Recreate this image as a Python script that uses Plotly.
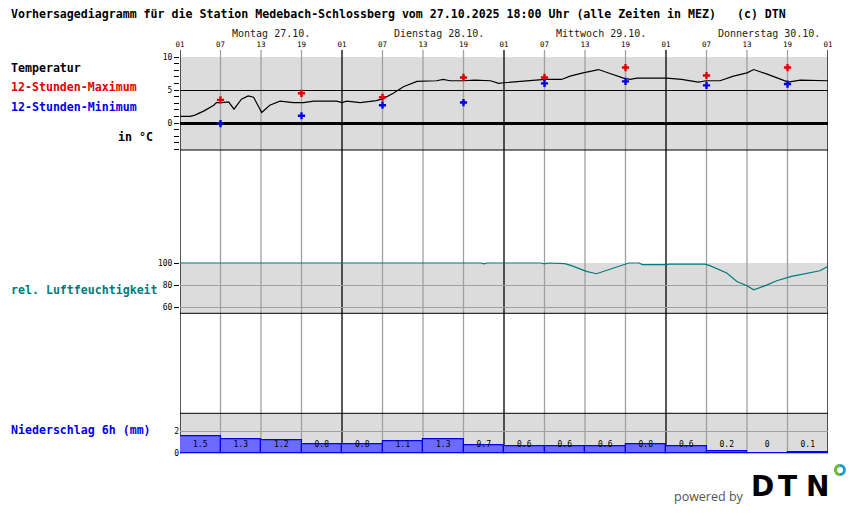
import plotly.graph_objects as go

# ---------------- data ----------------
title_text = ("Vorhersagediagramm für die Station Medebach-Schlossberg vom 27.10.2025 "
              "18:00 Uhr (alle Zeiten in MEZ)\u00a0\u00a0\u00a0(c) DTN")
day_labels = ["Montag 27.10.", "Dienstag 28.10.", "Mittwoch 29.10.", "Donnerstag 30.10."]
hour_ticks = [0, 6, 12, 18, 24, 30, 36, 42, 48, 54, 60, 66, 72, 78, 84, 90, 96]
hour_text = ["01", "07", "13", "19", "01", "07", "13", "19", "01",
             "07", "13", "19", "01", "07", "13", "19", "01"]

temp_hours = [0, 1.5, 2.2, 3.5, 5, 5.4, 6.2, 7.2, 8.0, 9.1, 10.1, 10.9, 12.1, 13.3, 14.8,
              16.8, 18.3, 19.8, 23.2, 24, 24.7, 26.7, 29.1, 30.1, 31.6, 33.1, 35.1, 38, 39,
              40, 42, 43.7, 46, 47.2, 48, 50.4, 52.8, 54.1, 56.5, 57.8, 59.7, 62, 63.7, 65.7,
              66.7, 67.7, 72.1, 74.3, 76.8, 78, 80, 82, 84, 85, 87, 89, 90.1, 91.9, 93.6, 96]
temp_vals = [1.0, 1.0, 1.2, 1.8, 2.7, 3.1, 3.1, 3.2, 2.1, 3.6, 4.1, 3.9, 1.6, 2.7, 3.3,
             3.1, 3.1, 3.3, 3.3, 3.1, 3.3, 3.1, 3.4, 3.7, 4.5, 5.5, 6.3, 6.4, 6.6,
             6.4, 6.4, 6.5, 6.4, 6.0, 6.1, 6.3, 6.5, 6.6, 6.6, 7.1, 7.6, 8.1, 7.5, 6.8,
             6.6, 6.8, 6.8, 6.6, 6.2, 6.4, 6.4, 7.1, 7.6, 8.1, 7.4, 6.6, 6.2, 6.5, 6.5, 6.4]

ext_hours = [6, 18, 30, 42, 54, 66, 78, 90]
tmax_vals = [3.5, 4.5, 3.9, 6.9, 6.9, 8.4, 7.2, 8.4]
tmin_vals = [-0.1, 1.1, 2.7, 3.1, 6.0, 6.3, 5.7, 5.9]

hum_hours = [0, 44.6, 45.0, 45.5, 53.5, 54, 54.5, 56, 57, 58, 59, 60.2, 61.7, 63.2, 64.7,
             65.9, 66.5, 68, 68.5, 72, 72.5, 77.8, 78.5, 81, 82.5, 84, 85, 87, 88.4, 90.6,
             92.8, 94.8, 96]
hum_vals = [100, 100, 99.3, 100, 100, 99.2, 100, 100, 99.4, 97.6, 95, 92.4, 90.3, 93.3, 97,
            98.8, 100, 100, 98.5, 98.5, 99, 99, 97.6, 91, 83.3, 79.4, 75.8, 80.3, 84, 87.9,
            90.9, 93, 97]

precip_hours = [3, 9, 15, 21, 27, 33, 39, 45, 51, 57, 63, 69, 75, 81, 87, 93]
precip_vals = [1.5, 1.3, 1.2, 0.8, 0.8, 1.1, 1.3, 0.7, 0.6, 0.6, 0.6, 0.8, 0.6, 0.2, 0, 0.1]
precip_text = ["1.5", "1.3", "1.2", "0.8", "0.8", "1.1", "1.3", "0.7",
               "0.6", "0.6", "0.6", "0.8", "0.6", "0.2", "0", "0.1"]

# ---------------- geometry helpers (pixels -> paper) ----------------
W, H = 850, 524
L, R, T, B = 180, 828, 57, 454


def px(x):
    return (x - L) / (R - L)


def py(y):
    return (B - y) / (B - T)


MONO = "DejaVu Sans Mono"
GREY_BG = "#dcdcdc"
GRID = "#a0a0a0"
TEAL = "#007b7b"
RED = "#e00000"
BLUE = "#0000e8"

fig = go.Figure()

fig.add_trace(go.Scatter(x=temp_hours, y=temp_vals, mode="lines", xaxis="x", yaxis="y",
                         line=dict(color="black", width=1.2), hoverinfo="skip"))
fig.add_trace(go.Scatter(x=ext_hours, y=tmax_vals, mode="markers", xaxis="x", yaxis="y",
                         marker=dict(symbol="cross", size=6, color=RED), hoverinfo="skip"))
fig.add_trace(go.Scatter(x=ext_hours, y=tmin_vals, mode="markers", xaxis="x", yaxis="y",
                         marker=dict(symbol="cross", size=6, color=BLUE), hoverinfo="skip"))
fig.add_trace(go.Scatter(x=hum_hours, y=hum_vals, mode="lines", xaxis="x", yaxis="y2",
                         line=dict(color=TEAL, width=1.2), hoverinfo="skip"))
fig.add_trace(go.Bar(x=precip_hours, y=precip_vals, width=6, xaxis="x", yaxis="y3",
                     marker=dict(color="#6b6bff", line=dict(color="#0000ee", width=1.2)),
                     hoverinfo="skip"))
fig.add_trace(go.Scatter(x=precip_hours, y=[0.75] * len(precip_hours), text=precip_text,
                         mode="text", xaxis="x", yaxis="y3", cliponaxis=False,
                         textfont=dict(family=MONO, size=8, color="black"), hoverinfo="skip"))

shapes = []
# grey panel backgrounds
for top, bot in [(57, 150), (263, 313.3), (413.3, 453.3)]:
    shapes.append(dict(type="rect", xref="x", yref="paper", x0=0, x1=96,
                       y0=py(bot), y1=py(top), fillcolor=GREY_BG, line=dict(width=0),
                       layer="below"))
# vertical grid lines through all panels
for h in hour_ticks:
    col = "black" if h % 24 == 0 else GRID
    shapes.append(dict(type="line", xref="x", yref="paper", x0=h, x1=h,
                       y0=py(453.3), y1=py(50), line=dict(color=col, width=1.3),
                       layer="below"))
# horizontal borders
for yy in [150, 313.3, 413.3]:
    shapes.append(dict(type="line", xref="x", yref="paper", x0=0, x1=96,
                       y0=py(yy), y1=py(yy), line=dict(color="black", width=1),
                       layer="below"))

# DTN logo ring
shapes.append(dict(type="circle", xref="paper", yref="paper",
                   x0=px(835.5), x1=px(844.5), y0=py(474.5), y1=py(465.5),
                   line=dict(color="#1a9ad9", width=2.8)))
k = 4.5 * 0.5523
shapes.append(dict(type="path", xref="paper", yref="paper",
                   path=(f"M {px(840)},{py(465.5)} "
                         f"C {px(840 - k)},{py(465.5)} {px(835.5)},{py(470 - k)} {px(835.5)},{py(470)} "
                         f"C {px(835.5)},{py(470 + k)} {px(840 - k)},{py(474.5)} {px(840)},{py(474.5)}"),
                   line=dict(color="#79b829", width=2.8)))

annotations = []
annotations.append(dict(xref="paper", yref="paper", x=px(9), y=py(14), xanchor="left",
                        yanchor="middle", showarrow=False, text=title_text,
                        font=dict(family=MONO, size=11.6, color="black", weight="bold")))
for d, lab in enumerate(day_labels):
    annotations.append(dict(xref="x", yref="paper", x=d * 24 + 50 / 6.75, y=py(33),
                            xanchor="left", yanchor="middle", showarrow=False, text=lab,
                            font=dict(family=MONO, size=10, color="#222")))

left_labels = [("Temperatur", 67.5, "black"), ("12-Stunden-Maximum", 87.3, RED),
               ("12-Stunden-Minimum", 107.3, BLUE), ("rel. Luftfeuchtigkeit", 289.5, TEAL),
               ("Niederschlag 6h (mm)", 430.3, BLUE)]
for txt, yy, col in left_labels:
    annotations.append(dict(xref="paper", yref="paper", x=px(9), y=py(yy), xanchor="left",
                            yanchor="middle", showarrow=False, text=txt,
                            font=dict(family=MONO, size=11.6, color=col, weight="bold")))
annotations.append(dict(xref="paper", yref="paper", x=px(155), y=py(136.5), xanchor="right",
                        yanchor="middle", showarrow=False, text="in °C",
                        font=dict(family=MONO, size=11.6, color="black", weight="bold")))

# powered by DTN
annotations.append(dict(xref="paper", yref="paper", x=px(709), y=py(496), xanchor="center",
                        yanchor="middle", showarrow=False, text="powered by",
                        font=dict(family="Open Sans", size=12.5, color="#555")))
for ch, cx in [("D", 762.5), ("T", 787.5), ("N", 817.5)]:
    annotations.append(dict(xref="paper", yref="paper", x=px(cx), y=py(486.5),
                            xanchor="center", yanchor="middle", showarrow=False, text=ch,
                            font=dict(family="DejaVu Sans", size=28, color="black",
                                      weight="bold")))

tickfont = dict(family=MONO, size=8, color="black")

fig.update_layout(
    width=W, height=H,
    margin=dict(l=L, r=W - R, t=T, b=H - B, autoexpand=False),
    paper_bgcolor="white", plot_bgcolor="rgba(0,0,0,0)",
    showlegend=False, bargap=0,
    shapes=shapes, annotations=annotations,
    xaxis=dict(range=[0, 96], domain=[0, 1], anchor="y", side="top",
               tickmode="array", tickvals=hour_ticks, ticktext=hour_text,
               ticks="outside", ticklen=6, tickcolor="rgba(0,0,0,0)",
               tickfont=dict(family=MONO, size=7.5, color="black"),
               showgrid=False, zeroline=False, showline=False, fixedrange=True),
    yaxis=dict(domain=[py(150), 1], range=[-4.09, 10], anchor="x",
               tickmode="array", tickvals=[0, 5, 10], ticktext=["0", "5", "10"],
               ticks="outside", ticklen=5, tickcolor="black", tickfont=tickfont,
               showgrid=True, gridcolor="black", gridwidth=1,
               zeroline=True, zerolinecolor="black", zerolinewidth=3,
               showline=False, fixedrange=True,
               minor=dict(tickmode="linear", tick0=0, dtick=1, ticks="outside", ticklen=5,
                          tickcolor="black", showgrid=False)),
    yaxis2=dict(domain=[py(313.3), py(262)], range=[54.6, 100.9], anchor="x",
                tickmode="array", tickvals=[60, 80, 100], ticktext=["60", "80", "100"],
                ticks="outside", ticklen=5, tickcolor="black", tickfont=tickfont,
                showgrid=True, gridcolor=GRID, gridwidth=1,
                zeroline=False, showline=False, fixedrange=True),
    yaxis3=dict(domain=[0, py(413.3)], range=[-0.06, 3.59], anchor="x",
                tickmode="array", tickvals=[0, 2], ticktext=["0", "2"],
                ticks="", tickfont=tickfont,
                showgrid=True, gridcolor=GRID, gridwidth=1,
                zeroline=False, showline=False, fixedrange=True),
)

fig.write_html("out.html", config={"displayModeBar": False},
               post_script="document.body.style.margin='0';document.body.style.overflow='hidden';")
